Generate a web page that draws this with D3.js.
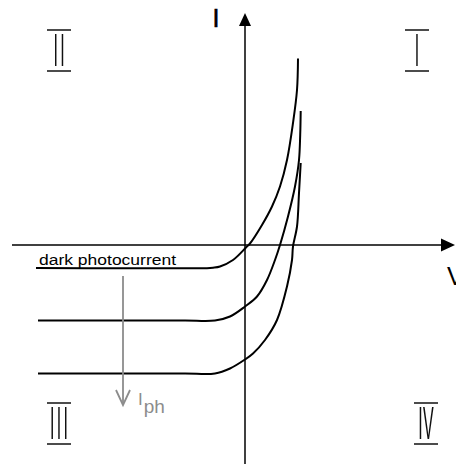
<!DOCTYPE html>
<html><head><meta charset="utf-8">
<script src="https://cdn.jsdelivr.net/npm/d3@7/dist/d3.min.js"></script>
<style>html,body{margin:0;padding:0;background:#fff;overflow:hidden} .quad{filter:grayscale(100%)}</style>
</head><body>
<svg id="c" width="456" height="466"></svg>
<script>
// Data (V in arbitrary volts, I in arbitrary current units)
const darkCurve = [[-2.09,-0.46],[-1.20,-0.465],[-0.60,-0.465],[-0.38,-0.465],[-0.32,-0.455],[-0.25,-0.43],[-0.12,-0.30],[0.01,-0.05],[0.05,0.03],[0.17,0.40],[0.27,0.77],[0.35,1.17],[0.42,1.70],[0.48,2.44],[0.52,3.10],[0.53,3.73]];
const lightCurve1 = [[-2.07,-1.51],[-1.20,-1.51],[-0.60,-1.51],[-0.30,-1.51],[-0.15,-1.43],[0.00,-1.23],[0.12,-1.03],[0.22,-0.70],[0.30,-0.30],[0.35,0.00],[0.43,0.57],[0.50,1.17],[0.54,1.70],[0.552,2.20],[0.557,2.68]];
const lightCurve2 = [[-2.07,-2.57],[-1.20,-2.57],[-0.60,-2.57],[-0.30,-2.57],[-0.15,-2.47],[0.00,-2.29],[0.08,-2.17],[0.20,-1.90],[0.32,-1.50],[0.42,-0.83],[0.47,-0.30],[0.48,-0.03],[0.52,0.37],[0.54,1.04],[0.557,1.64]];
const curves = [darkCurve, lightCurve1, lightCurve2];
const quadrantLabels = ["I","II","III","IV"];
const axisLabels = {x:"V", y:"I"};
const curveLabel = "dark photocurrent";
const arrowLabel = {main:"I", sub:"ph"};
// Axis extents and annotation anchors in data units
const xExtent = [-2.33, 2.10];
const yExtent = [-4.38, 4.64];
const arrowFromTo = [[-1.22,-0.62],[-1.22,-3.20]];
const quadPos = {I:[1.72,4.3], II:[-1.86,4.3], III:[-1.86,-3.16], IV:[1.81,-3.16]};

const svg = d3.select("#c");
const x = d3.scaleLinear().domain([0,1]).range([245,345]);
const y = d3.scaleLinear().domain([0,1]).range([245,195]);

// axes
svg.append("line").attr("x1",x(xExtent[0])).attr("x2",x(xExtent[1])-13).attr("y1",y(0)).attr("y2",y(0))
  .attr("stroke","#000").attr("stroke-width",1.5);
svg.append("path").attr("d",`M${x(xExtent[1])},${y(0)} L${x(xExtent[1])-14},${y(0)-6.5} L${x(xExtent[1])-14},${y(0)+6.5}Z`).attr("fill","#000");
svg.append("line").attr("x1",x(0)).attr("x2",x(0)).attr("y1",y(yExtent[0])).attr("y2",y(yExtent[1])+12)
  .attr("stroke","#000").attr("stroke-width",1.5);
svg.append("path").attr("d",`M${x(0)},${y(yExtent[1])} L${x(0)-6},${y(yExtent[1])+13} L${x(0)+6},${y(yExtent[1])+13}Z`).attr("fill","#000");

svg.append("text").attr("x",216).attr("y",26.5).attr("text-anchor","middle")
  .attr("font-family","Liberation Sans").attr("font-size",25).attr("stroke","#000").attr("stroke-width",0.6).text(axisLabels.y);
svg.append("text").attr("x",447).attr("y",285).attr("font-family","Liberation Sans").attr("font-size",25).text(axisLabels.x);

// curves
const line = d3.line().x(d=>x(d[0])).y(d=>y(d[1])).curve(d3.curveCatmullRom.alpha(0.5));
svg.selectAll("path.curve").data(curves).enter().append("path").attr("class","curve")
  .attr("d",line).attr("fill","none").attr("stroke","#000").attr("stroke-width",2);

// curve label
svg.append("text").attr("x",39).attr("y",264.5).attr("font-family","Liberation Sans").attr("font-size",14)
  .attr("textLength",137).attr("lengthAdjust","spacingAndGlyphs").text(curveLabel);

// gray photocurrent arrow
const gray = "#8c8c8c";
const [a0,a1] = arrowFromTo;
svg.append("line").attr("x1",x(a0[0])).attr("x2",x(a1[0])).attr("y1",y(a0[1])).attr("y2",y(a1[1]))
  .attr("stroke",gray).attr("stroke-width",1.8);
svg.append("path").attr("d",`M${x(a1[0])-7},${y(a1[1])-15} L${x(a1[0])},${y(a1[1])} L${x(a1[0])+7},${y(a1[1])-15}`)
  .attr("fill","none").attr("stroke",gray).attr("stroke-width",1.8);
const t = svg.append("text").attr("x",138).attr("y",405).attr("font-family","Liberation Sans").attr("font-size",17).attr("fill",gray);
t.append("tspan").text(arrowLabel.main);
t.append("tspan").attr("dx",1).attr("dy",8).attr("font-size",19).text(arrowLabel.sub);

// quadrant labels
quadrantLabels.forEach(q=>{
  const [qx,qy] = quadPos[q];
  const cx = x(qx), top = y(qy);
  const g = svg.append("g").attr("class","quad");
  g.append("line").attr("x1",cx-12).attr("x2",cx+12).attr("y1",top).attr("y2",top).attr("stroke","#111").attr("stroke-width",1.5);
  g.append("line").attr("x1",cx-12).attr("x2",cx+12).attr("y1",top+41).attr("y2",top+41).attr("stroke","#111").attr("stroke-width",1.5);
  const ls = q==="IV" ? 0.4 : 2.3;
  g.append("text").attr("transform",`translate(${cx+ls/2},${top+36}) scale(1,2.85)`)
    .attr("text-anchor","middle").attr("font-family","Liberation Sans").attr("font-size",16)
    .attr("letter-spacing",ls).attr("fill","#111").text(q);
});
</script>
</body></html>
